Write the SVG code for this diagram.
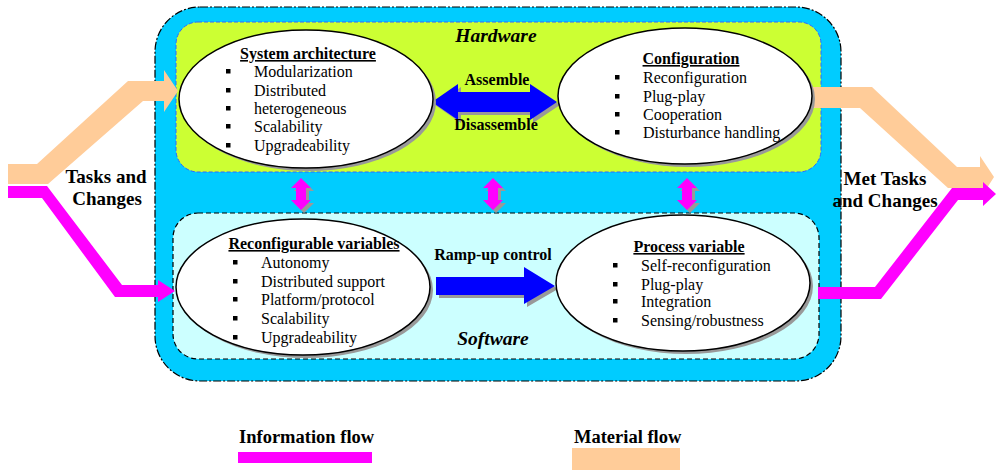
<svg xmlns="http://www.w3.org/2000/svg" width="1000" height="473" viewBox="0 0 1000 473" font-family="Liberation Serif, serif">
<style>
text{font-family:'Liberation Serif','Times New Roman',serif}
.t{font-size:16px;fill:#000}
.u{font-weight:bold;text-decoration:underline}
.lbl{font-weight:bold;font-size:19px;fill:#000}
.leg{font-weight:bold;font-size:18.5px;fill:#000}
.sm{font-weight:bold;font-size:16px;fill:#000}
.it{font-weight:bold;font-style:italic;font-size:19.5px;fill:#000}
.el{fill:#fff;stroke:#000;stroke-width:1.5}
.sh{fill:#999}
.mat{fill:#FFCC99}
.inf{fill:#FF00FF}
.blue{fill:#0000FF}
</style>
<defs>
<rect id="bul" width="4.5" height="4.5" fill="#000"/>
<polygon id="varr" points="0,0 10,10 5,10 5,22 10,22 0,32 -10,22 -5,22 -5,10 -10,10"/>
</defs>
<rect width="1000" height="473" fill="#fff"/>
<g id="system-box">
<rect x="155" y="7" width="686" height="374" rx="45" fill="#00CCFF" stroke="#000" stroke-width="1.2" stroke-dasharray="8,2,2,2"/>
</g>
<g id="hardware">
<rect x="176" y="22" width="645" height="150" rx="22" fill="#CCFF33" stroke="#3366FF" stroke-width="1" stroke-dasharray="4,2"/>
<text class="it" x="496" y="42" text-anchor="middle">Hardware</text>
</g>
<g id="software">
<rect x="173" y="213" width="646" height="146" rx="25" fill="#CCFFFF" stroke="#000" stroke-width="1.2" stroke-dasharray="5,3"/>
<text class="it" x="493" y="345" text-anchor="middle">Software</text>
</g>
<g id="connectors">
<polygon class="mat" points="8,164 37,164 128,81 164,81 164,70 178,91 164,112 164,101 143,101 48,184 8,184"/>
<polygon class="inf" points="8,186 47,186 122,285 158,285 158,280 175,291 158,302 158,297 115,297 42,198 8,198"/>
<polygon class="mat" points="808,87 872,87 957,167 980,167 980,156 994,177 980,199 980,188 948,188 860,108 808,108"/>
<polygon class="inf" points="818,287 875,287 952,188 983,188 983,182 996,194 983,206 983,200 958,200 881,299 818,299"/>
<g id="assemble-arrow">
<polygon class="sh" transform="translate(3,3)" points="432,102 458,84 458,92 530,92 530,84 557,102 530,120 530,112 458,112 458,120"/>
<polygon class="blue" points="432,102 458,84 458,92 530,92 530,84 557,102 530,120 530,112 458,112 458,120"/>
<text class="sm" x="497" y="85" text-anchor="middle">Assemble</text>
<text class="sm" x="496" y="130" text-anchor="middle">Disassemble</text>
</g>
<g id="rampup-arrow">
<polygon class="sh" transform="translate(3,3)" points="436,277 524,277 524,267 555,286 524,304 524,295 436,295"/>
<polygon class="blue" points="436,277 524,277 524,267 555,286 524,304 524,295 436,295"/>
<text class="sm" x="493" y="260" text-anchor="middle">Ramp-up control</text>
</g>
<g id="vertical-arrows">
<use href="#varr" x="304" y="181" class="sh"/>
<use href="#varr" x="301" y="178" class="inf"/>
<use href="#varr" x="496" y="181" class="sh"/>
<use href="#varr" x="493" y="178" class="inf"/>
<use href="#varr" x="690" y="181" class="sh"/>
<use href="#varr" x="687" y="178" class="inf"/>
</g>
</g>
<g id="system-architecture">
<ellipse class="sh" cx="309" cy="102" rx="127" ry="69"/>
<ellipse class="el" cx="306" cy="99" rx="127" ry="69"/>
<text class="t u" x="308" y="59" text-anchor="middle">System architecture</text>
<use href="#bul" x="226" y="69"/><text class="t" x="254" y="77">Modularization</text>
<use href="#bul" x="226" y="88"/><text class="t" x="254" y="96">Distributed</text>
<use href="#bul" x="226" y="106"/><text class="t" x="254" y="114">heterogeneous</text>
<use href="#bul" x="226" y="124"/><text class="t" x="254" y="132">Scalability</text>
<use href="#bul" x="226" y="143"/><text class="t" x="254" y="151">Upgradeability</text>
</g>
<g id="configuration">
<ellipse class="sh" cx="688" cy="99" rx="127" ry="68"/>
<ellipse class="el" cx="685" cy="96" rx="127" ry="68"/>
<text class="t u" x="691" y="64" text-anchor="middle">Configuration</text>
<use href="#bul" x="615" y="75"/><text class="t" x="643" y="83">Reconfiguration</text>
<use href="#bul" x="615" y="94"/><text class="t" x="643" y="102">Plug-play</text>
<use href="#bul" x="615" y="112"/><text class="t" x="643" y="120">Cooperation</text>
<use href="#bul" x="615" y="130"/><text class="t" x="643" y="138">Disturbance handling</text>
</g>
<g id="reconfigurable-variables">
<ellipse class="sh" cx="306" cy="290" rx="127" ry="68"/>
<ellipse class="el" cx="303" cy="287" rx="127" ry="68"/>
<text class="t u" x="314" y="249" text-anchor="middle">Reconfigurable variables</text>
<use href="#bul" x="233" y="260"/><text class="t" x="261" y="268">Autonomy</text>
<use href="#bul" x="233" y="279"/><text class="t" x="261" y="287">Distributed support</text>
<use href="#bul" x="233" y="297"/><text class="t" x="261" y="305">Platform/protocol</text>
<use href="#bul" x="233" y="316"/><text class="t" x="261" y="324">Scalability</text>
<use href="#bul" x="233" y="335"/><text class="t" x="261" y="343">Upgradeability</text>
</g>
<g id="process-variable">
<ellipse class="sh" cx="686" cy="286" rx="127" ry="68"/>
<ellipse class="el" cx="683" cy="283" rx="127" ry="68"/>
<text class="t u" x="689" y="252" text-anchor="middle">Process variable</text>
<use href="#bul" x="613" y="263"/><text class="t" x="641" y="271">Self-reconfiguration</text>
<use href="#bul" x="613" y="282"/><text class="t" x="641" y="290">Plug-play</text>
<use href="#bul" x="613" y="299"/><text class="t" x="641" y="307">Integration</text>
<use href="#bul" x="613" y="318"/><text class="t" x="641" y="326">Sensing/robustness</text>
</g>
<g id="tasks-label">
<text class="lbl" x="106" y="183" text-anchor="middle">Tasks and</text>
<text class="lbl" x="107" y="205" text-anchor="middle">Changes</text>
</g>
<g id="met-label">
<text class="lbl" x="885" y="185" text-anchor="middle">Met Tasks</text>
<text class="lbl" x="885" y="207" text-anchor="middle">and Changes</text>
</g>
<g id="legend">
<text class="leg" x="239" y="443">Information flow</text>
<rect x="238" y="452" width="134" height="11" class="inf"/>
<text class="leg" x="574" y="443">Material flow</text>
<rect x="572" y="448" width="108" height="22" class="mat"/>
</g>
</svg>
